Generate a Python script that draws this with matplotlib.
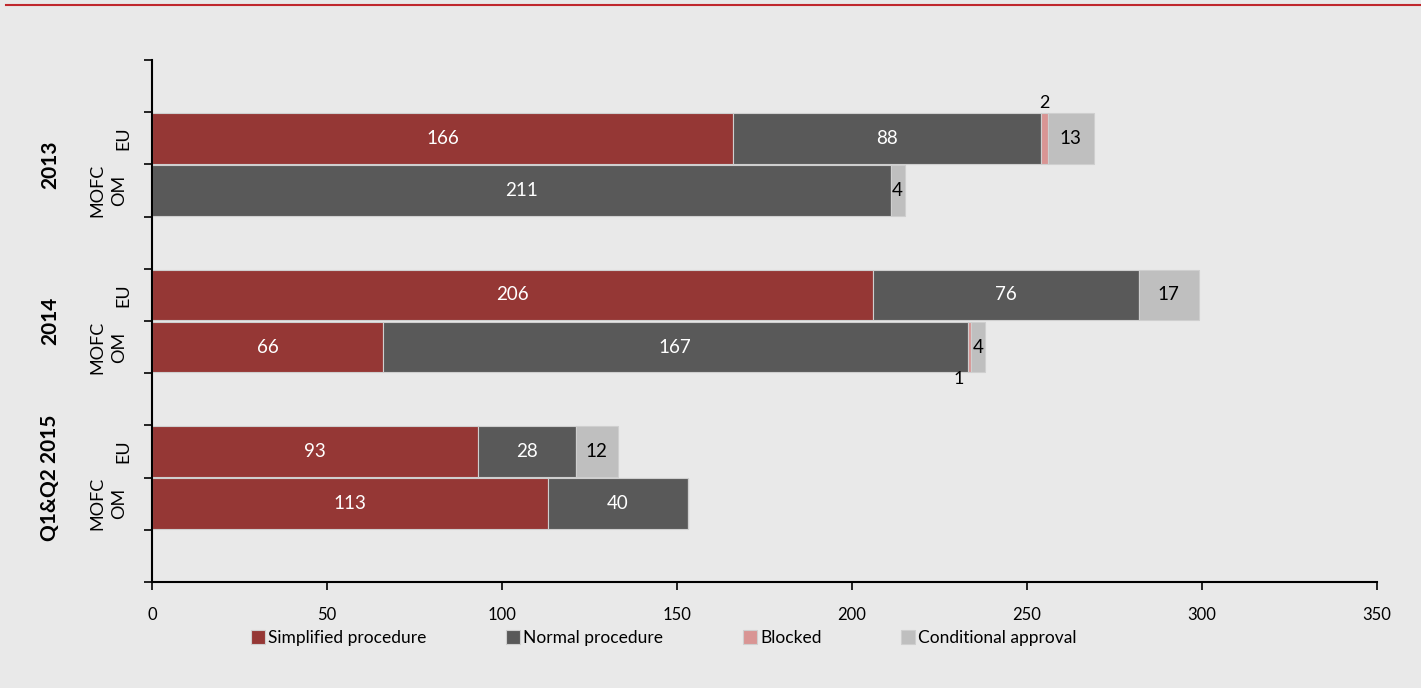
import numpy as np
import matplotlib.pyplot as plt
import matplotlib.transforms as mtransforms

plt.rcParams['font.family'] = ['Lato', 'DejaVu Sans']

groups = ['2013', '2014', 'Q1&Q2 2015']
rows = ['EU', 'MOFC\nOM']
simplified = [166, 0, 206, 66, 93, 113]
normal = [88, 211, 76, 167, 28, 40]
blocked = [2, 0, 0, 1, 0, 0]
conditional = [13, 4, 17, 4, 12, 0]

series = [('Simplified procedure', simplified, '#953735', 'white'),
          ('Normal procedure', normal, '#595959', 'white'),
          ('Blocked', blocked, '#d99594', 'black'),
          ('Conditional approval', conditional, '#bfbfbf', 'black')]

bg = '#e9e9e9'
fig = plt.figure(figsize=(14.21, 6.88), dpi=100, facecolor=bg)
ax = fig.add_axes([152/1421, 1-582/688, 1225/1421, 522/688])
ax.set_facecolor(bg)

# two rows per group, one empty slot between groups
ypos = []
for g in range(len(groups)):
    for j in range(len(rows)):
        ypos.append(g*3 + 1.5 + j)
ypos = np.array(ypos)

left = np.zeros(len(ypos))
for name, vals, col, tcol in series:
    vals = np.array(vals, dtype=float)
    ax.barh(ypos, vals, left=left, height=0.97, color=col, edgecolor='#cfcfcf',
            linewidth=0.8, label=name)
    for i, v in enumerate(vals):
        if v == 0:
            continue
        cx = left[i] + v/2
        cy = ypos[i]
        if name == 'Blocked':
            if i % 2 == 0:
                ax.text(cx, cy - 0.52, '%d' % v, ha='center', va='bottom', fontsize=13, color='black')
            else:
                ax.text(cx - 3, cy + 0.45, '%d' % v, ha='center', va='top', fontsize=13, color='black')
        else:
            ax.text(cx, cy, '%d' % v, ha='center', va='center', fontsize=13.5, color=tcol)
    left = left + vals

ax.set_xlim(0, 350)
ax.set_ylim(10, 0)
ax.set_xticks(np.arange(0, 351, 50))
ax.set_yticks(np.arange(0, 11, 1))
ax.set_yticklabels([])
ax.tick_params(axis='x', length=6, width=1.2, pad=12, labelsize=12)
ax.tick_params(axis='y', length=6, width=1.2)
for s in ['top', 'right']:
    ax.spines[s].set_visible(False)
for s in ['left', 'bottom']:
    ax.spines[s].set_linewidth(1.5)

trans = mtransforms.blended_transform_factory(fig.transFigure, ax.transData)
for i, y in enumerate(ypos):
    r = rows[i % 2]
    xr = 123 if i % 2 == 0 else 108
    ax.text(xr/1421, y, r, transform=trans, rotation=90, ha='center', va='center',
            fontsize=13, linespacing=1.45)
for g, name in enumerate(groups):
    ax.text(50/1421, g*3 + 2, name, transform=trans, rotation=90, ha='center',
            va='center', fontsize=15, fontweight='bold')

fig.legend(loc='center', bbox_to_anchor=(664/1421, 1-638/688), ncol=4, frameon=False,
           fontsize=12.5, handlelength=0.8, handleheight=0.8, handletextpad=0.17,
           columnspacing=4.6)

# red rule at the top
fig.add_artist(plt.Line2D([6/1421, 1], [1-5/688, 1-5/688], color='#c0282d', linewidth=1.5))

fig.savefig('out.png', dpi=100, facecolor=bg)
